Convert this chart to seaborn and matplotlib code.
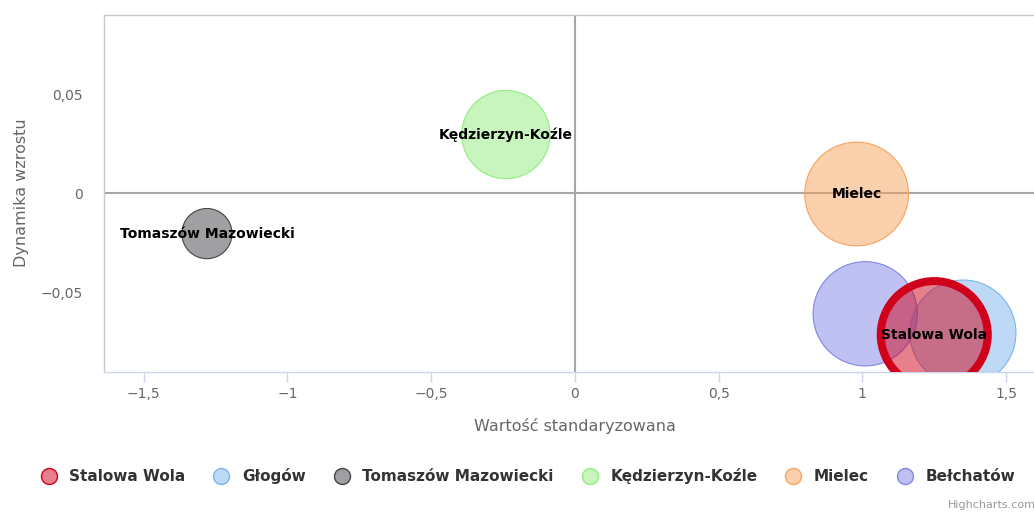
import pandas as pd
import numpy as np
import matplotlib
matplotlib.use("Agg")
import matplotlib.pyplot as plt
import matplotlib.ticker as mticker
from matplotlib.lines import Line2D
from matplotlib.colors import to_rgba
import seaborn as sns

# Data
miasta = ['Stalowa Wola', 'Głogów', 'Tomaszów Mazowiecki', 'Kędzierzyn-Koźle', 'Mielec', 'Bełchatów']
wartosc_std = [1.25, 1.35, -1.28, -0.24, 0.98, 1.01]
dynamika = [-0.0715, -0.0707, -0.0205, 0.0295, -0.0005, -0.0610]
wielkosc = [100, 98, 22, 68, 94, 95]

# labels that Highcharts actually shows (others hidden by overlap)
pokazane = ['Stalowa Wola', 'Tomaszów Mazowiecki', 'Kędzierzyn-Koźle', 'Mielec']
wyrozniony = 'Stalowa Wola'

kolory = ['#d0021b', '#7cb5ec', '#434348', '#90ed7d', '#f7a35c', '#8085e9']
pal = dict(zip(miasta, kolory))

sns.set_style("white")
plt.rcParams['font.family'] = ['DejaVu Sans']

df = pd.DataFrame({'miasto': miasta, 'x': wartosc_std, 'y': dynamika, 'z': wielkosc})
# highlighted bubble goes on top
df_draw = pd.concat([df[df.miasto != wyrozniony], df[df.miasto == wyrozniony]])

W, H = 1034, 513
fig = plt.figure(figsize=(W / 100, H / 100), dpi=100)
ax = fig.add_axes([104 / W, 1 - 372 / H, (W - 104) / W, (372 - 15) / H])

# zero lines
ax.axhline(0, color='#a6a6a6', lw=1.5, zorder=1)
ax.axvline(0, color='#a6a6a6', lw=1.5, zorder=1)

smax = (2 * 53.5 * 0.72) ** 2
sns.scatterplot(data=df_draw, x='x', y='y', hue='miasto', size='z',
                sizes=(0, smax), size_norm=(0, 100), palette=pal,
                legend=False, ax=ax, zorder=3)
coll = ax.collections[-1]
coll.set_facecolor([to_rgba(pal[m], 0.5) for m in df_draw.miasto])
coll.set_edgecolor([pal[m] for m in df_draw.miasto])
coll.set_linewidth([5.8 if m == wyrozniony else 0.8 for m in df_draw.miasto])

for _, r in df.iterrows():
    if r.miasto in pokazane:
        ax.text(r.x, r.y, r.miasto, ha='center', va='center', fontsize=10,
                fontweight='bold', color='black', zorder=5)

ax.set_xlim(-1.638, 1.597)
ax.set_ylim(-0.0904, 0.0899)
ax.set_xticks([-1.5, -1, -0.5, 0, 0.5, 1, 1.5])
ax.set_yticks([-0.05, 0, 0.05])


def fmt(v, pos):
    s = ('%g' % round(v, 4)).replace('.', ',').replace('-', '\u2212')
    return s


ax.xaxis.set_major_formatter(mticker.FuncFormatter(fmt))
ax.yaxis.set_major_formatter(mticker.FuncFormatter(fmt))
ax.tick_params(axis='x', colors='#ccd6eb', labelcolor='#666666', labelsize=10,
               length=7, width=1, direction='out', pad=4, bottom=True)
ax.tick_params(axis='y', labelcolor='#666666', labelsize=10, length=0, pad=15)

for side in ['top', 'left']:
    ax.spines[side].set_color('#c8c8c8')
    ax.spines[side].set_linewidth(1)
ax.spines['right'].set_visible(False)
ax.spines['bottom'].set_color('#ccd6eb')
ax.spines['bottom'].set_linewidth(1)

ax.set_xlabel('Wartość standaryzowana', color='#666666', fontsize=11.5)
ax.set_ylabel('Dynamika wzrostu', color='#666666', fontsize=11.5)
ax.xaxis.set_label_coords((575 - 104) / (W - 104), -(418 - 372) / (372 - 15))
ax.yaxis.set_label_coords(-(104 - 29) / (W - 104), (372 - 193) / (372 - 15))

handles = [Line2D([], [], marker='o', ls='none', markersize=11.5,
                  markerfacecolor=to_rgba(pal[m], 0.5), markeredgecolor=pal[m],
                  markeredgewidth=1) for m in miasta]
leg = fig.legend(handles, miasta, ncol=6, loc='center',
                 bbox_to_anchor=(0.507, 1 - 476 / H), frameon=False,
                 columnspacing=1.35, handletextpad=0.35,
                 prop={'weight': 'bold', 'size': 11})
for t in leg.get_texts():
    t.set_color('#333333')

fig.text(948 / W, 1 - 508 / H, 'Highcharts.com', fontsize=8, color='#999999',
         ha='left', va='baseline')

fig.savefig('out.png', dpi=100)
